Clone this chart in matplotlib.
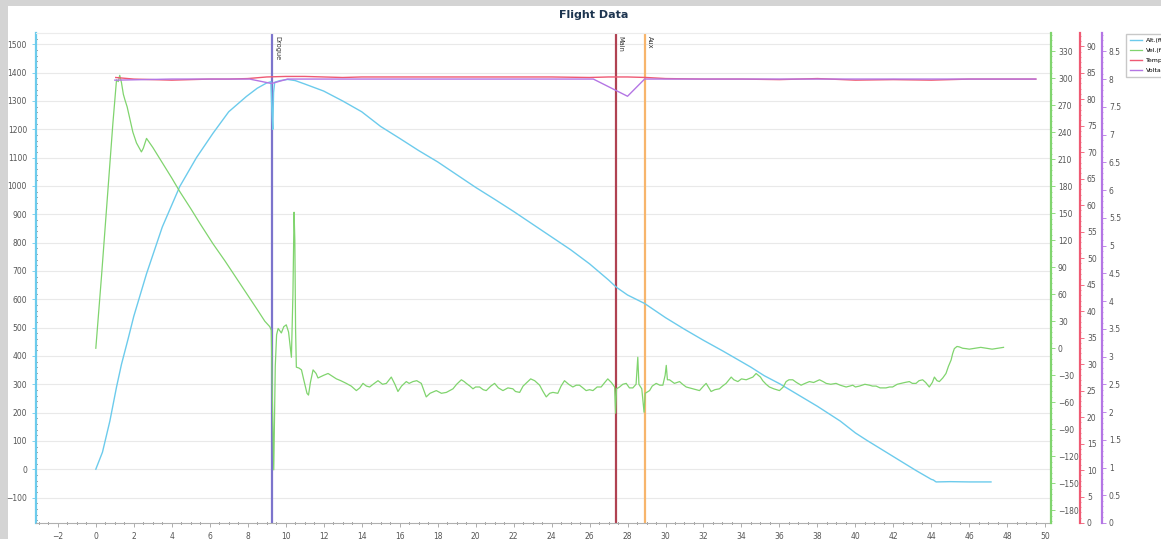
import numpy as np
import matplotlib
matplotlib.use('Agg')
import matplotlib.pyplot as plt
from matplotlib.patches import Rectangle
from matplotlib.ticker import MultipleLocator, FormatStrFormatter

# ---- data ----
alt_t = [0, 0.35, 0.74, 1.09, 1.35, 1.7, 2.0, 2.67, 3.5, 4.42, 5.3, 6.17, 7.0, 7.93, 8.5, 8.98,
         9.22, 9.28, 9.32, 9.36, 9.42, 9.7, 10.1, 10.5, 11.0, 12.0, 13.0, 14.0, 15.0, 16.0,
         17.0, 18.0, 19.0, 20.0, 21.0, 22.0, 23.0, 24.0, 25.0, 26.0, 27.0, 27.4, 28.0, 28.9,
         30.0, 31.0, 32.0, 33.0, 33.7, 34.5, 35.2, 36.0, 37.0, 38.0, 39.2, 40.0, 40.6, 41.5,
         42.3, 43.2, 44.0, 44.1, 44.25, 45.0, 46.0, 47.14]
alt_ft = [0, 60, 170, 290, 370, 460, 540, 690, 855, 998, 1100, 1186, 1262, 1316, 1345, 1363,
          1368, 1250, 1200, 1330, 1366, 1372, 1376, 1372, 1360, 1335, 1300, 1262, 1210, 1168,
          1125, 1085, 1040, 995, 953, 910, 865, 820, 775, 725, 668, 643, 615, 585,
          535, 494, 455, 418, 391, 360, 330, 302, 262, 222, 170, 128, 102, 65,
          32, -5, -36, -38, -45, -44, -45, -45]

vel_t = [0.0, 0.3, 0.6, 0.9, 1.09, 1.18, 1.26, 1.35, 1.45, 1.53, 1.65, 1.79, 1.95, 2.14, 2.3,
         2.4, 2.5, 2.67, 3.0, 3.5, 4.0, 4.42, 5.0, 5.5, 6.17, 6.8, 7.4, 7.93, 8.5, 8.9,
         9.16, 9.24, 9.30, 9.37, 9.45, 9.52, 9.6, 9.77, 9.9, 10.03, 10.15, 10.3, 10.38, 10.44,
         10.48, 10.52, 10.56, 10.7, 10.83, 10.95, 11.12, 11.2, 11.3, 11.44, 11.6, 11.7, 11.8,
         12.0, 12.23, 12.45, 12.67, 12.9, 13.19, 13.45, 13.72, 13.9, 14.07, 14.25, 14.42,
         14.6, 14.86, 15.1, 15.3, 15.56, 15.75, 15.91, 16.1, 16.35, 16.5, 16.7, 16.9, 17.14,
         17.4, 17.6, 17.93, 18.2, 18.46, 18.81, 19.0, 19.25, 19.4, 19.51, 19.7, 19.86, 20.0,
         20.21, 20.4, 20.56, 20.8, 21.0, 21.2, 21.44, 21.7, 21.96, 22.1, 22.32, 22.5, 22.75,
         22.9, 23.11, 23.37, 23.55, 23.72, 23.9, 24.07, 24.33, 24.5, 24.68, 24.9, 25.12,
         25.3, 25.47, 25.65, 25.82, 26.0, 26.18, 26.4, 26.61, 26.8, 26.96, 27.15, 27.32,
         27.37, 27.42, 27.58, 27.75, 27.93, 28.1, 28.28, 28.45, 28.54, 28.6, 28.75, 28.87,
         28.93, 29.16, 29.3, 29.51, 29.7, 29.86, 29.98, 30.04, 30.1, 30.21, 30.47, 30.74,
         30.9, 31.09, 31.44, 31.79, 32.0, 32.14, 32.4, 32.6, 32.84, 33.0, 33.19, 33.46, 33.6,
         33.81, 34.0, 34.25, 34.6, 34.77, 35.0, 35.12, 35.3, 35.47, 35.7, 36.0, 36.2, 36.35,
         36.5, 36.7, 36.9, 37.14, 37.35, 37.58, 37.8, 38.11, 38.3, 38.46, 38.7, 38.98, 39.2,
         39.51, 39.7, 39.86, 40.0, 40.21, 40.5, 40.74, 40.9, 41.09, 41.3, 41.61, 41.8, 41.96,
         42.2, 42.4, 42.6, 42.84, 43.0, 43.19, 43.35, 43.54, 43.7, 43.89, 44.05, 44.16, 44.3,
         44.42, 44.6, 44.77, 44.9, 45.04, 45.12, 45.21, 45.35, 45.47, 45.65, 45.82, 46.0,
         46.3, 46.6, 46.9, 47.2, 47.5, 47.8]
vel_fps = [0, 80, 165, 250, 298, 296, 303, 295, 282, 276, 268, 255, 240, 228, 222,
           218, 222, 233, 223, 206, 189, 174, 155, 138, 116, 97, 78, 61, 43, 30,
           24, 20, -60, -135, -20, 15, 22, 17, 24, 26, 18, -10, 60, 151,
           120, 20, -21, -22, -24, -35, -50, -52, -38, -24, -28, -33, -32,
           -30, -28, -31, -34, -36, -39, -42, -47, -44, -39, -42, -43,
           -40, -36, -40, -39, -32, -40, -48, -42, -37, -39, -37, -36, -39,
           -54, -50, -47, -50, -49, -45, -40, -35, -37, -39, -42, -45, -43,
           -43, -46, -47, -42, -39, -44, -47, -44, -45, -48, -49, -42, -37,
           -34, -36, -41, -48, -54, -50, -49, -50, -42, -36, -40, -43,
           -41, -41, -44, -47, -46, -47, -43, -43, -38, -34, -38, -43,
           -72, -45, -43, -40, -39, -44, -44, -40, -10, -40, -45, -71,
           -50, -47, -42, -39, -41, -41, -30, -19, -35, -35, -39, -37,
           -40, -43, -45, -47, -42, -39, -48, -46, -45, -42, -39, -32, -35,
           -37, -34, -35, -32, -28, -32, -36, -40, -43, -45, -47, -43, -37,
           -35, -35, -38, -41, -39, -37, -38, -35, -37, -39, -40, -39, -41,
           -43, -42, -41, -43, -42, -40, -41, -42, -42, -44, -44, -43, -43,
           -40, -39, -38, -37, -39, -39, -36, -35, -38, -43, -38, -32, -36,
           -37, -33, -28, -20, -13, -6, -0.4, 2, 1.5, 0, -0.4, -1,
           0, 1, 0, -1, 0, 1]

temp_t = [1.05, 2, 3, 4, 5, 6, 7, 8, 9, 10, 11, 12, 13, 14, 16, 18, 20, 22, 24, 26, 27,
          28, 29, 30, 32, 34, 36, 38, 40, 42, 44, 46, 48, 49.5]
temp_f = [84.1, 83.8, 83.7, 83.6, 83.7, 83.8, 83.8, 83.9, 84.2, 84.3, 84.3, 84.2, 84.1, 84.2,
          84.2, 84.2, 84.2, 84.2, 84.2, 84.1, 84.2, 84.2, 84.1, 83.9, 83.8, 83.8, 83.7, 83.9,
          83.6, 83.7, 83.6, 83.8, 83.8, 83.8]

volt_t = [1.0, 4.0, 8.1, 9.25, 10.1, 15.0, 20.0, 26.2, 28.0, 28.9, 35.0, 40.0, 45.0, 49.5]
volt_v = [7.98, 8.0, 8.0, 7.92, 8.0, 8.0, 8.0, 8.0, 7.69, 8.0, 8.0, 8.0, 8.0, 8.0]

events = ['Drogue', 'Main', 'Aux']
event_t = [9.26, 27.37, 28.9]

c_alt = '#6ccbec'
c_vel = '#80d46e'
c_temp = '#ef5a73'
c_volt = '#b476e4'
c_event = ['#7c74cc', '#b04252', '#f7b56c']
tick_grey = '#555555'

fig = plt.figure(figsize=(11.61, 5.39), dpi=100, facecolor='#d4d4d4')
panel = Rectangle((8 / 1161, 0), 1, 1 - 6 / 539, transform=fig.transFigure,
                  facecolor='white', edgecolor='none', zorder=-10)
fig.patches.append(panel)
fig.text(594 / 1161, 1 - 15 / 539, 'Flight Data', ha='center', va='center',
         fontsize=8, fontweight='bold', color='#1d3550')

ax = fig.add_axes([36 / 1161, 16 / 539, 1015 / 1161, 490 / 539])
ax.set_facecolor('white')
ax.set_xlim(-3.15, 50.3)
ax.set_ylim(-190, 1540)
ax.xaxis.set_major_locator(MultipleLocator(2))
ax.xaxis.set_minor_locator(MultipleLocator(0.5))
ax.yaxis.set_major_locator(MultipleLocator(100))
ax.yaxis.set_minor_locator(MultipleLocator(20))
ax.yaxis.grid(True, color='#e9e9e9', lw=0.8)
ax.set_axisbelow(True)
ax.spines['right'].set_visible(False)
ax.spines['top'].set_color('#ececec')
ax.spines['left'].set_color(c_alt)
ax.spines['left'].set_linewidth(1.6)
ax.spines['bottom'].set_color('#b0b0b0')
ax.tick_params(axis='both', which='major', labelsize=5.5, labelcolor=tick_grey, length=3,
               width=0.6)
ax.tick_params(axis='both', which='minor', length=2, width=0.5, direction='inout')
ax.tick_params(axis='y', colors=c_alt, labelcolor=tick_grey)
ax.tick_params(axis='x', colors='#a0a0a0', labelcolor=tick_grey)

for name, t, c in zip(events, event_t, c_event):
    ax.axvline(t, color=c, lw=1.6, zorder=1)
    ax.text(t + 0.12, 1530, name, rotation=270, ha='left', va='top', fontsize=4.8,
            color='#333333')

l1, = ax.plot(alt_t, alt_ft, color=c_alt, lw=1.0, label='Alt.(ft)', zorder=3)

# velocity axis
ax2 = ax.twinx()
ax2.set_ylim(-194, 350)
ax2.yaxis.set_major_locator(MultipleLocator(30))
ax2.yaxis.set_minor_locator(MultipleLocator(6))
l2, = ax2.plot(vel_t, vel_fps, color=c_vel, lw=0.9, label='Vel.(ft/s)')

# temperature axis
ax3 = ax.twinx()
ax3.spines['right'].set_position(('axes', 1.0286))
ax3.set_ylim(0, 92.5)
ax3.yaxis.set_major_locator(MultipleLocator(5))
ax3.yaxis.set_minor_locator(MultipleLocator(1))
l3, = ax3.plot(temp_t, temp_f, color=c_temp, lw=1.0, label='Temp.(F)')

# voltage axis
ax4 = ax.twinx()
ax4.spines['right'].set_position(('axes', 1.0502))
ax4.set_ylim(0, 8.83)
ax4.yaxis.set_major_locator(MultipleLocator(0.5))
ax4.yaxis.set_minor_locator(MultipleLocator(0.1))
ax4.yaxis.set_major_formatter(FormatStrFormatter('%g'))
l4, = ax4.plot(volt_t, volt_v, color=c_volt, lw=1.0, label='Voltage(V)')

for a, c in [(ax2, c_vel), (ax3, c_temp), (ax4, c_volt)]:
    for s in ['top', 'bottom', 'left']:
        a.spines[s].set_visible(False)
    a.spines['right'].set_color(c)
    a.spines['right'].set_linewidth(1.6)
    a.tick_params(axis='y', which='major', colors=c, labelcolor=tick_grey, labelsize=5.5,
                  length=3, width=0.6, pad=2)
    a.tick_params(axis='y', which='minor', colors=c, length=2, width=0.5, direction='inout')

fig.legend(handles=[l1, l2, l3, l4], loc='upper left',
           bbox_to_anchor=(1123 / 1161, 1 - 31 / 539), fontsize=4.5, frameon=True,
           fancybox=False, edgecolor='#c8c8c8', framealpha=1, handlelength=2.0,
           labelspacing=0.75, borderpad=0.6, handletextpad=0.6)

fig.savefig('out.png', dpi=100, facecolor=fig.get_facecolor())
